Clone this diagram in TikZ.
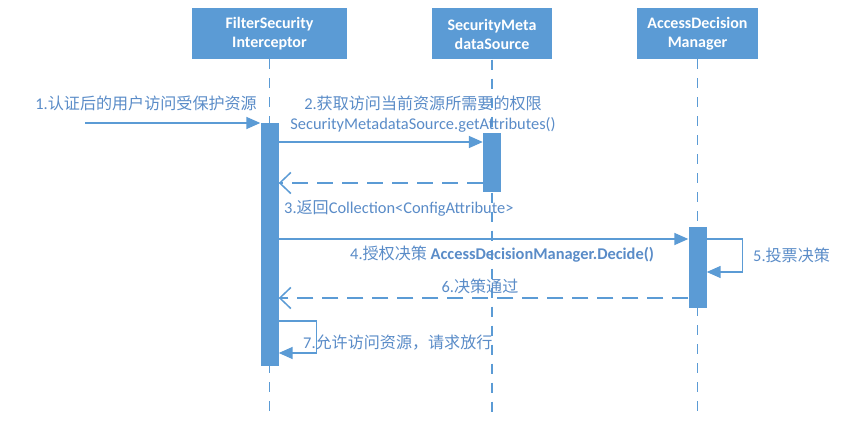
\documentclass[tikz,border=0pt]{standalone}
\usepackage{fontspec}
\setmainfont{Carlito}
\newfontfamily\cjk[Scale=0.98]{Noto Sans CJK SC}
\usetikzlibrary{arrows.meta,positioning}
\definecolor{umlblue}{HTML}{5B9BD5}
\definecolor{msgtext}{HTML}{5A8CC8}
\tikzset{
actor/.style={fill=umlblue, text=white, font=\bfseries\fontsize{16}{19}\selectfont, align=center, inner sep=0pt, minimum height=51pt},
lifeline/.style={umlblue, line width=1.6pt, dash pattern=on 10pt off 9pt},
activation/.style={fill=umlblue, minimum width=18pt, inner sep=0pt, anchor=north},
call/.style={umlblue, line width=1.5pt, -{Triangle[length=14pt,width=12pt]}},
reply/.style={umlblue, line width=1.5pt, dash pattern=on 16pt off 9pt, -{Straight Barb[length=11pt,width=21pt]}},
msg/.style={text=msgtext, font=\fontsize{16.4}{20}\selectfont, inner sep=0pt},
}

\begin{document}
\begin{tikzpicture}[x=1pt, y=-1pt]
    \useasboundingbox[fill=white] (0,0) rectangle (842,435);

    % participants
    \node[actor, minimum width=155pt] (fsi) at (269.5,33.5) {FilterSecurity\\Interceptor};
    \node[actor, minimum width=120pt] (smds) at (492,34) {SecurityMeta\\dataSource};
    \node[actor, minimum width=121pt] (adm) at (697.5,33.5) {AccessDecision\\Manager};

    \draw[lifeline] (fsi.south) -- (fsi.south |- 0,412);
    \draw[lifeline] (smds.south) -- (smds.south |- 0,412);
    \draw[lifeline] (adm.south) -- (adm.south |- 0,412);

    % activation bars
    \node[activation, minimum height=243pt] (bar1) at (fsi.south |- 0,123) {};
    \node[activation, minimum height=59pt] (bar2) at (smds.south |- 0,133) {};
    \node[activation, minimum height=81pt] (bar3) at (adm.south |- 0,227) {};

    % messages
    \coordinate (user) at (85,123);
    \draw[call] (user) -- (bar1.west |- user);
    \node[msg, anchor=east] (m1) at (257,103) {1.{\cjk 认证后的用户访问受保护资源}};

    \draw[call] (bar1.east |- 0,142) -- (bar2.west |- 0,142);
    \node[msg, align=center] (m2) at (423,114) {2.{\cjk 获取访问当前资源所需要的权限}\\SecurityMetadataSource.getAttributes()};

    \draw[reply] (bar2.west |- 0,183) -- (bar1.east |- 0,183);
    \node[msg, anchor=west] (m3) at (284,208) {3.{\cjk 返回}Collection<ConfigAttribute>};

    \draw[call] (bar1.east |- 0,239) -- (bar3.west |- 0,239);
    \node[msg, anchor=west] (m4) at (350,254) {4.{\cjk 授权决策} {\bfseries AccessDecisionManager.Decide()}};

    \draw[call] (bar3.east |- 0,239) -- ++(36,0) |- (bar3.east |- 0,272);
    \node[msg, anchor=west] (m5) at (753,255) {5.{\cjk 投票决策}};

    \draw[reply] (bar3.west |- 0,298) -- (bar1.east |- 0,298);
    \node[msg] (m6) at (480,286) {6.{\cjk 决策通过}};

    \draw[call] (bar1.east |- 0,321) -- ++(38,0) |- (bar1.east |- 0,353);
    \node[msg, anchor=west] (m7) at (303,343) {7.{\cjk 允许访问资源，请求放行}};
\end{tikzpicture}
\end{document}
